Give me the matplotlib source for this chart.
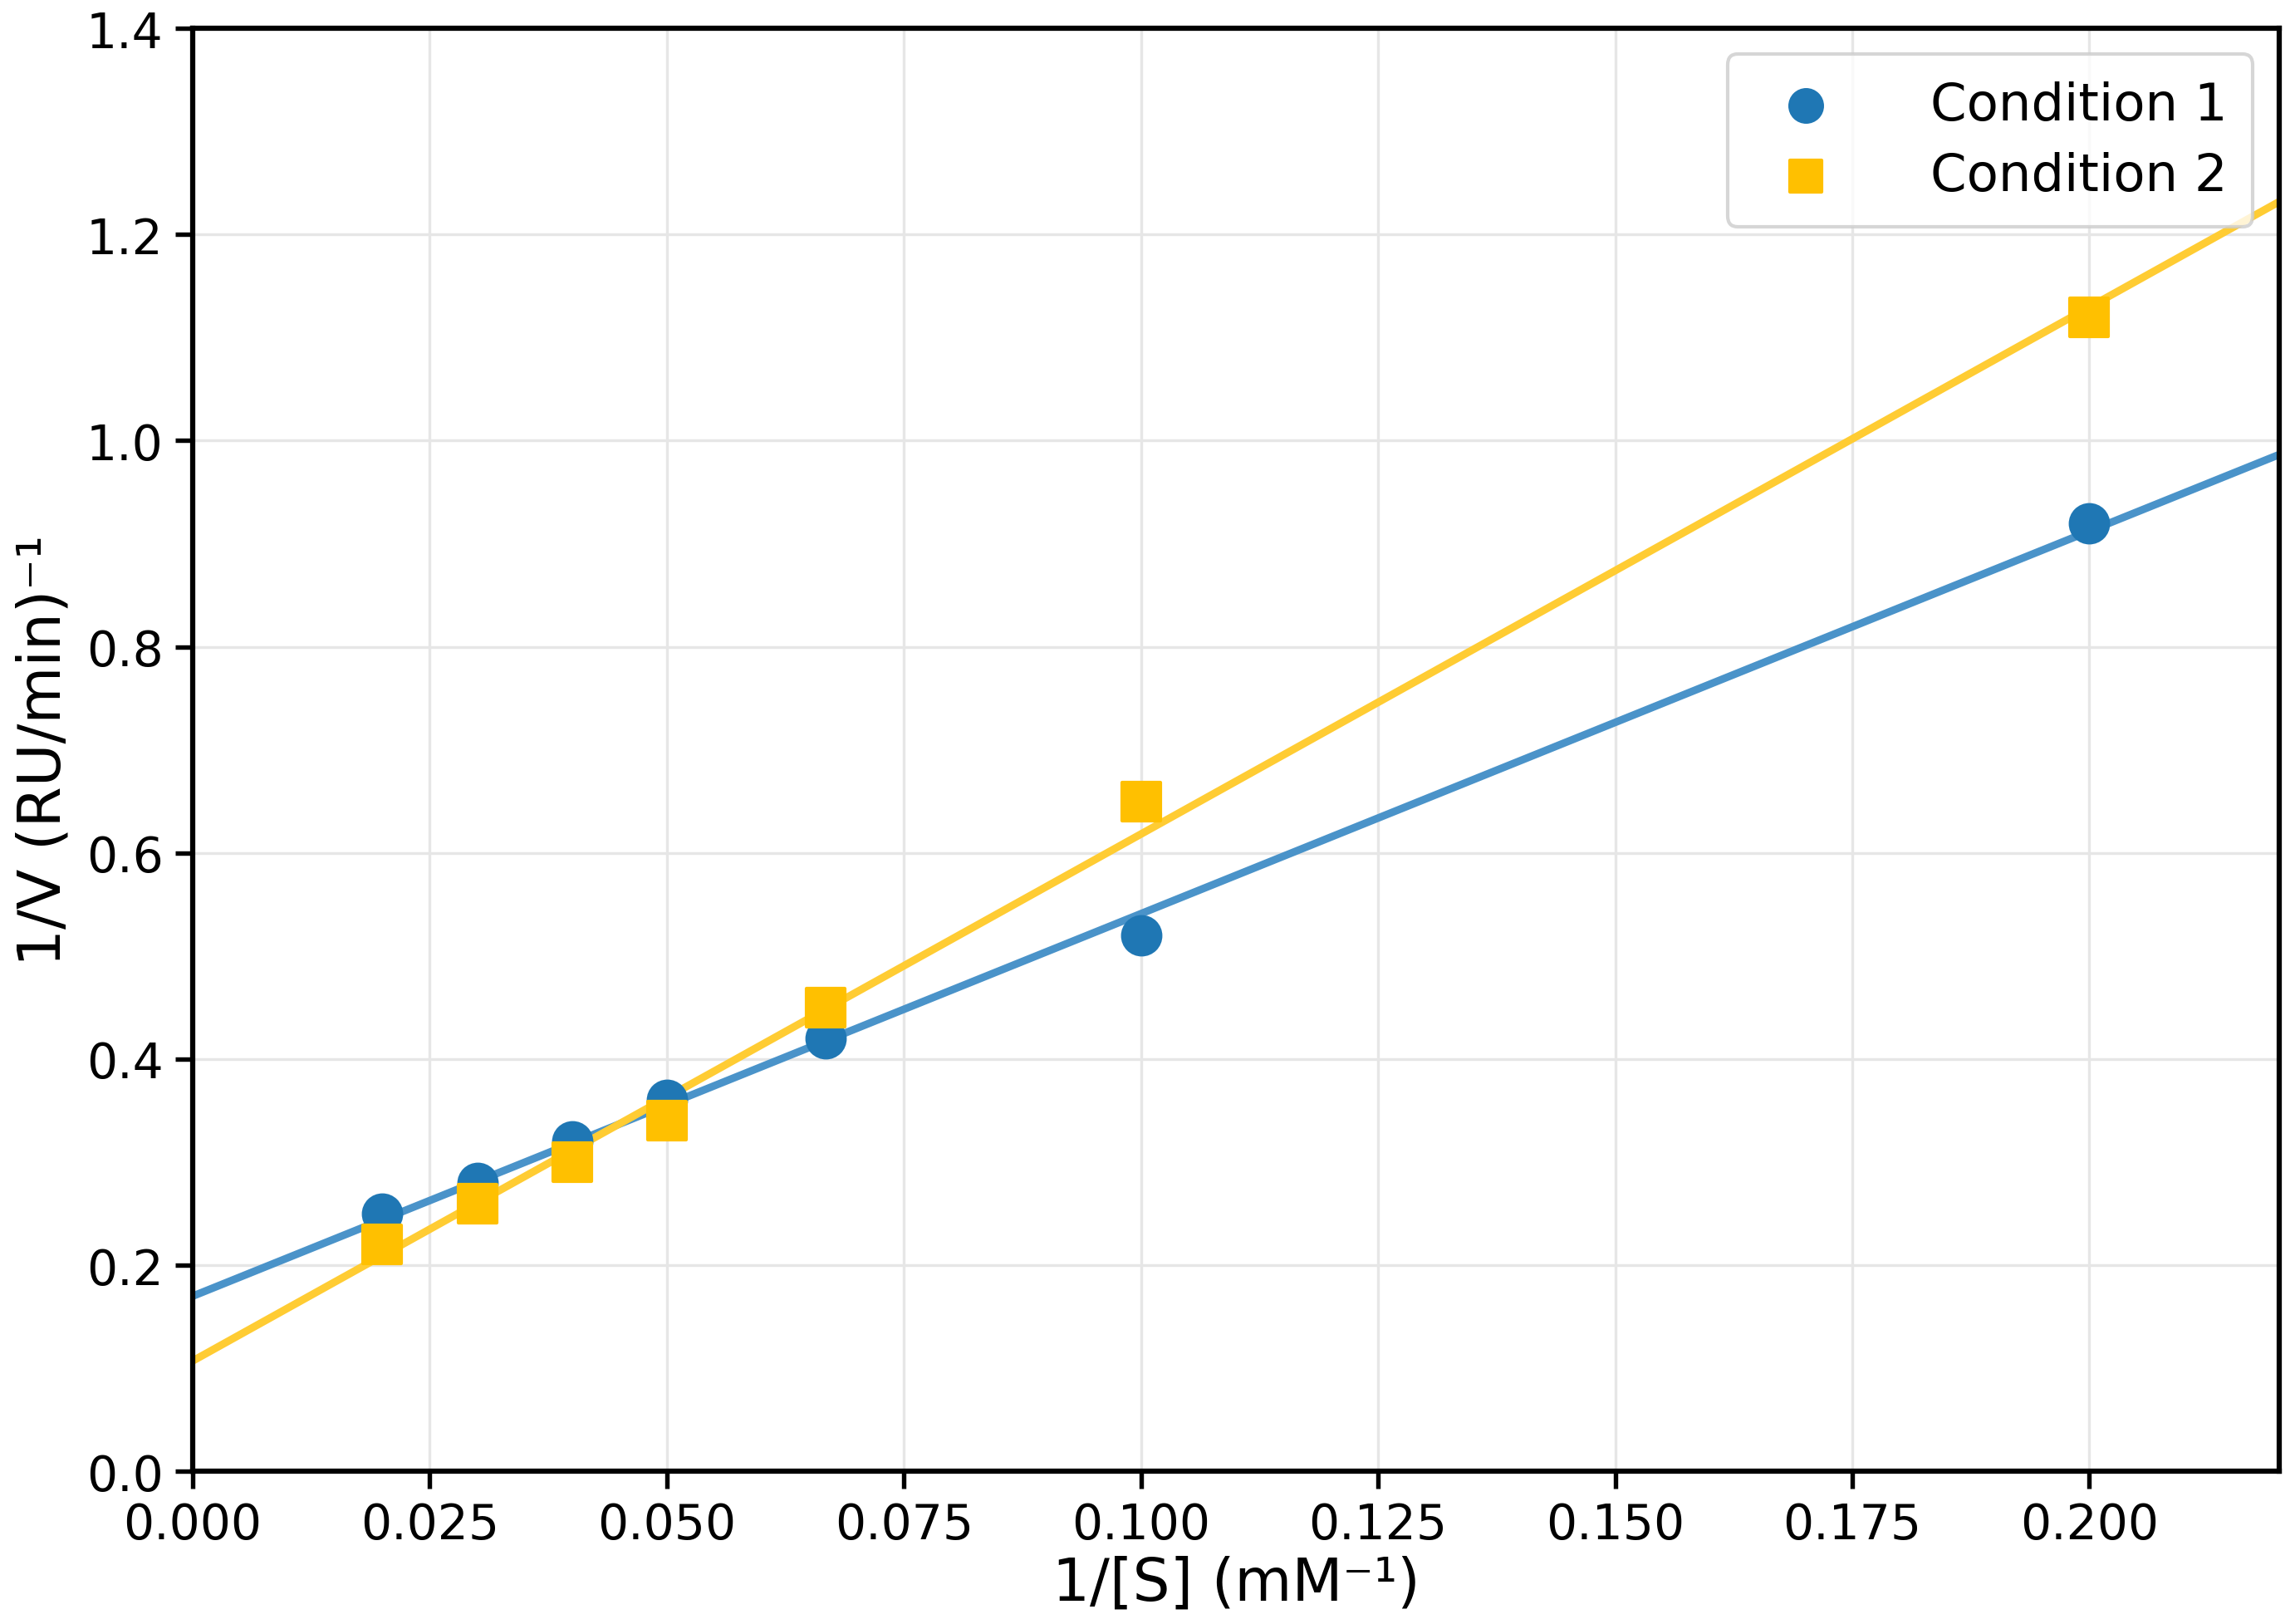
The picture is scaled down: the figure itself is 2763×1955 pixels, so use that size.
import numpy as np
import matplotlib
matplotlib.use("Agg")
import matplotlib.pyplot as plt

inv_s = [0.02, 0.03, 0.04, 0.05, 0.0667, 0.1, 0.2]
cond1 = [0.25, 0.28, 0.32, 0.36, 0.42, 0.52, 0.92]
cond2 = [0.22, 0.26, 0.30, 0.34, 0.45, 0.65, 1.12]

fig = plt.figure(figsize=(2763/300, 1956/300), dpi=300)
ax = fig.add_axes([0.084, 0.094, 0.909, 0.888])

xs = np.array([0, 0.22])
for y, c, lc, m, lab in [(cond1, '#1f77b4', '#4a93c9', 'o', 'Condition 1'),
                          (cond2, '#ffc000', '#ffcc33', 's', 'Condition 2')]:
    k, b = np.polyfit(inv_s, y, 1)
    ax.plot(xs, k*xs + b, color=lc, lw=2.2, zorder=2)
    ax.scatter(inv_s, y, color=c, marker=m, s=120, label=lab, zorder=3)

ax.set_xlim(0, 0.22)
ax.set_ylim(0, 1.4)
ax.set_xticks(np.arange(0, 0.2001, 0.025))
ax.set_yticks(np.arange(0, 1.41, 0.2))
ax.xaxis.set_major_formatter(matplotlib.ticker.FormatStrFormatter('%.3f'))
ax.yaxis.set_major_formatter(matplotlib.ticker.FormatStrFormatter('%.1f'))
ax.grid(True, color='#e6e6e6', lw=0.8)
ax.set_axisbelow(True)
ax.tick_params(labelsize=14, width=1.3, length=5)
for s in ax.spines.values():
    s.set_linewidth(1.5)
ax.set_xlabel('1/[S] (mM⁻¹)', fontsize=17, labelpad=2)
ax.set_ylabel('1/V (RU/min)⁻¹', fontsize=17)
ax.legend(loc='upper right', fontsize=15, borderpad=0.5, handletextpad=1.4,
          labelspacing=0.4, markerscale=0.85)
fig.savefig('out.png', dpi=300)
